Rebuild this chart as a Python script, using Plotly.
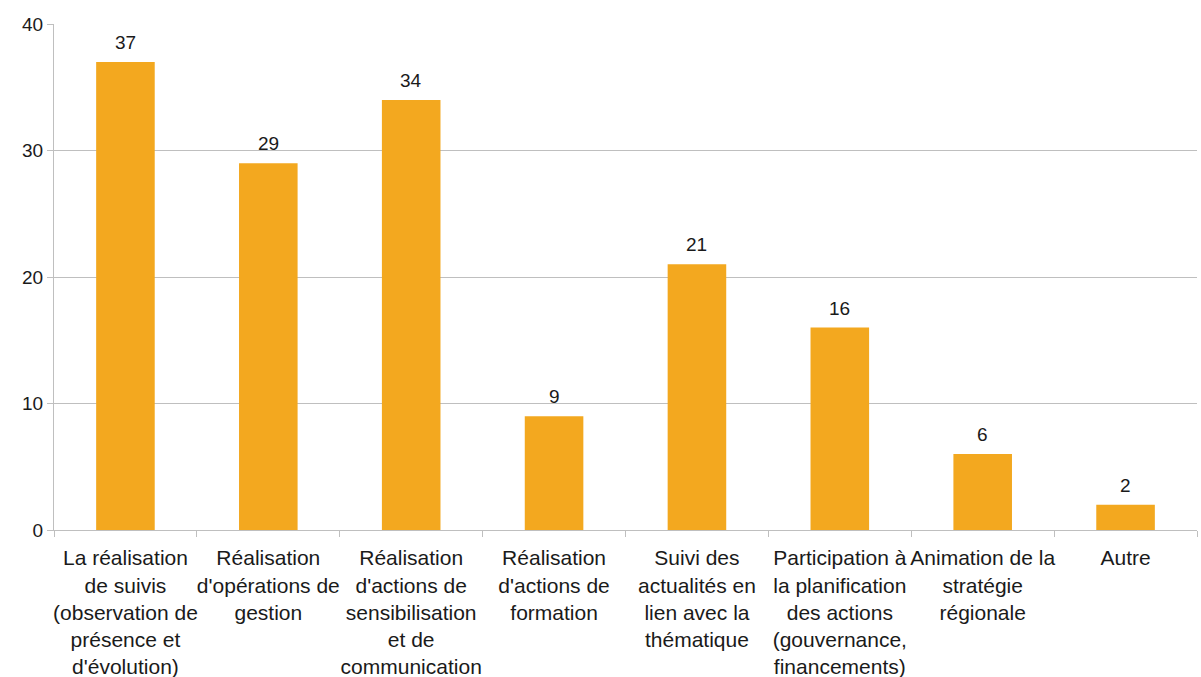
import plotly.graph_objects as go

categories = [
    "La réalisation<br>de suivis<br>(observation de<br>présence et<br>d'évolution)",
    "Réalisation<br>d'opérations de<br>gestion",
    "Réalisation<br>d'actions de<br>sensibilisation<br>et de<br>communication",
    "Réalisation<br>d'actions de<br>formation",
    "Suivi des<br>actualités en<br>lien avec la<br>thématique",
    "Participation à<br>la planification<br>des actions<br>(gouvernance,<br>financements)",
    "Animation de la<br>stratégie<br>régionale",
    "Autre",
]
values = [37, 29, 34, 9, 21, 16, 6, 2]
y_ticks = [0, 10, 20, 30, 40]

FONT = "Liberation Sans"
GRID = "#BFBFBF"
TXT = "#1A1A1A"

fig = go.Figure(
    go.Bar(
        x=categories,
        y=values,
        marker=dict(color="#F3A81F", line=dict(width=0)),
        width=0.41,
        hoverinfo="x+y",
    )
)

for c, v in zip(categories, values):
    fig.add_annotation(
        x=c, y=v, text=str(v), showarrow=False,
        yanchor="bottom", yshift=7,
        font=dict(family=FONT, size=19, color=TXT),
    )

fig.update_layout(
    width=1201,
    height=677,
    margin=dict(l=54, r=4, t=24, b=147),
    paper_bgcolor="white",
    plot_bgcolor="white",
    showlegend=False,
    font=dict(family=FONT, size=20, color=TXT),
)

fig.update_xaxes(
    type="category",
    tickson="boundaries",
    ticks="outside",
    ticklen=6,
    tickcolor=GRID,
    showline=True,
    linecolor=GRID,
    linewidth=1,
    showgrid=False,
    tickangle=0,
    automargin=False,
    ticklabelstandoff=9,
    tickfont=dict(family=FONT, size=21, color=TXT),
)

fig.update_yaxes(
    range=[0, 40],
    tickvals=y_ticks,
    ticks="outside",
    ticklen=6,
    tickcolor=GRID,
    showline=True,
    linecolor=GRID,
    linewidth=1,
    showgrid=True,
    gridcolor=GRID,
    gridwidth=1,
    zeroline=False,
    automargin=False,
    tickfont=dict(family=FONT, size=19, color=TXT),
)

fig.write_html("out.html")
